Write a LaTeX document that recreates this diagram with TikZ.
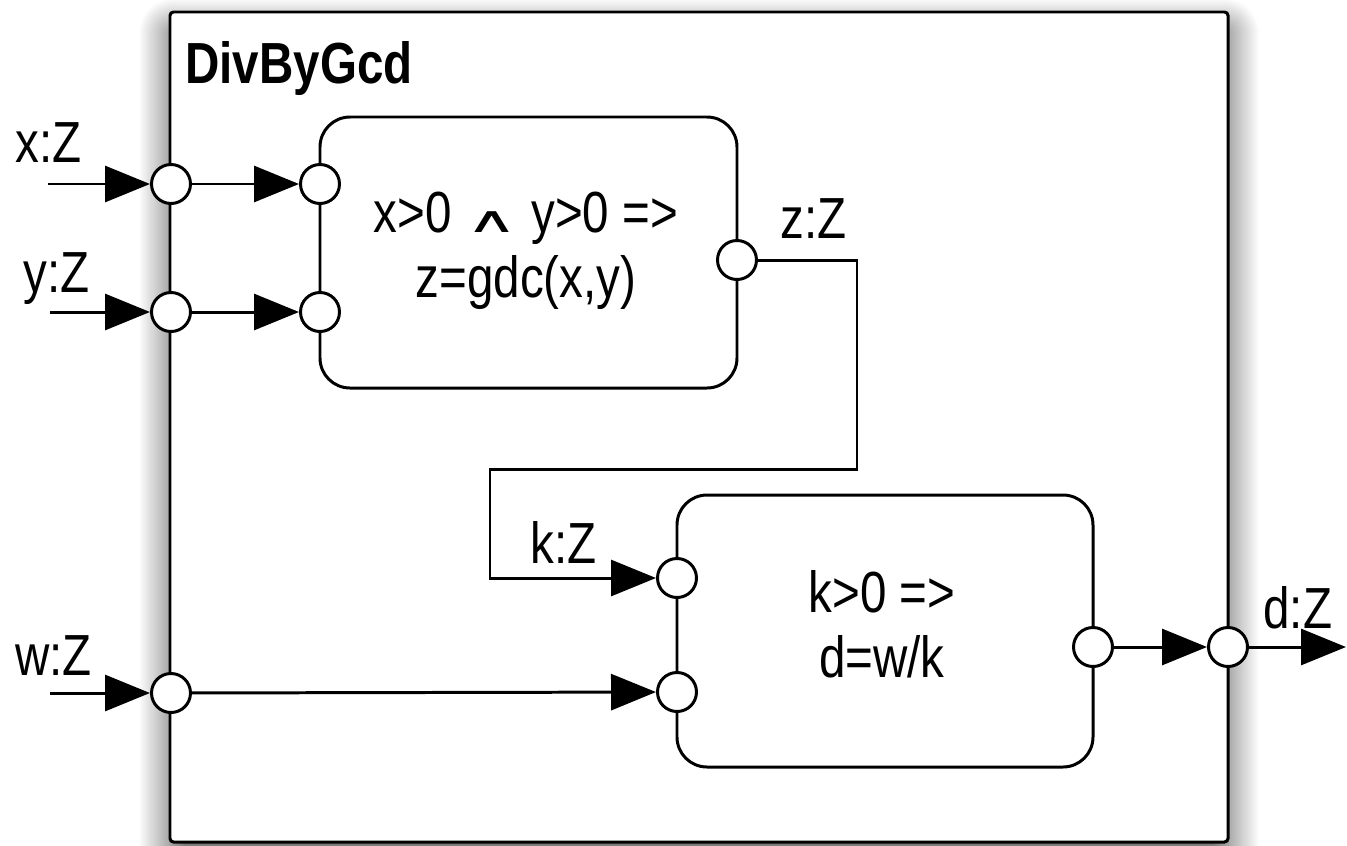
\documentclass[tikz,border=0pt]{standalone}
\usepackage{graphicx}
\usepackage{fontspec}
\setmainfont{Liberation Sans}[FakeStretch=0.82]
\newfontfamily\opfont{DejaVu Sans}
\usetikzlibrary{arrows.meta,shadows.blur}

\begin{document}
\begin{tikzpicture}[x=0.02cm,y=-0.02cm,
  txt/.style={font=\fontsize{33}{37}\selectfont,inner sep=0pt},
  lbl/.style={txt,anchor=base west},
  wire/.style={line width=1.7pt,line join=miter,draw=black},
  flow/.style={wire,-{Triangle[length=0.9cm,width=0.72cm,fill=black]}},
  port/.style={circle,draw,fill=white,line width=1.7pt,minimum size=0.78cm,inner sep=0pt},
  block/.style={draw,line width=1.7pt,rounded corners=0.6cm},
]
\useasboundingbox (0,0) rectangle (1347,846);

% enclosing component with its soft shadow
\begin{scope}
\draw[line width=1.7pt,rounded corners=2pt,fill=white,
  blur shadow={shadow xshift=0pt,shadow yshift=-10pt,shadow blur radius=18pt,
               shadow blur steps=30,shadow opacity=70}]
  (170,12) rectangle (1228,842);
\end{scope}
\node[lbl,font=\fontsize{33}{37}\selectfont\bfseries] (title) at (185,83) {DivByGcd};

% inner components
\draw[block] (320,117) rectangle (737,388);
\draw[block] (677,495) rectangle (1093,767);
\node[txt,align=center] (gcdtxt) at (526,251)
  {x>0 \scalebox{1.25}[0.62]{\opfont ∧} y>0 =>\\z=gdc(x,y)};
\node[txt,align=center] (divtxt) at (882,624) {k>0 =>\\d=w/k};

% ports
\node[port] (px) at (171,184) {};
\node[port] (py) at (171,312) {};
\node[port] (pw) at (171,693) {};
\node[port] (pd) at (1228,647) {};
\node[port] (gx) at (320,184) {};
\node[port] (gy) at (320,312) {};
\node[port] (gz) at (737,260) {};
\node[port] (dk) at (677,578) {};
\node[port] (dw) at (677,692) {};
\node[port] (dd) at (1093,647) {};

% free ends of the outer connectors
\coordinate (xin) at (48,184);
\coordinate (yin) at (50,312);
\coordinate (win) at (50,693);
\coordinate (dout) at (1346,647);
% bends of the z-to-k connector
\coordinate (z1) at (857,260);
\coordinate (z2) at (857,469);
\coordinate (z3) at (490,469);
\coordinate (z4) at (490,578);

% connectors
\draw[flow] (xin) -- (px);
\draw[flow] (yin) -- (py);
\draw[flow] (win) -- (pw);
\draw[flow] (px) -- (gx);
\draw[flow] (py) -- (gy);
\draw[flow] (pw) -- (dw);
\draw[flow] (gz) -- (z1) -- (z2) -- (z3) -- (z4) -- (dk);
\draw[flow] (dd) -- (pd);
\draw[flow] (pd) -- (dout);

% port labels
\node[lbl] (lx) at (15,162) {x:Z};
\node[lbl] (ly) at (23,292) {y:Z};
\node[lbl] (lw) at (15,675) {w:Z};
\node[lbl] (lz) at (780,238) {z:Z};
\node[lbl] (lk) at (530,563) {k:Z};
\node[lbl] (ld) at (1263,628) {d:Z};
\end{tikzpicture}
\end{document}
